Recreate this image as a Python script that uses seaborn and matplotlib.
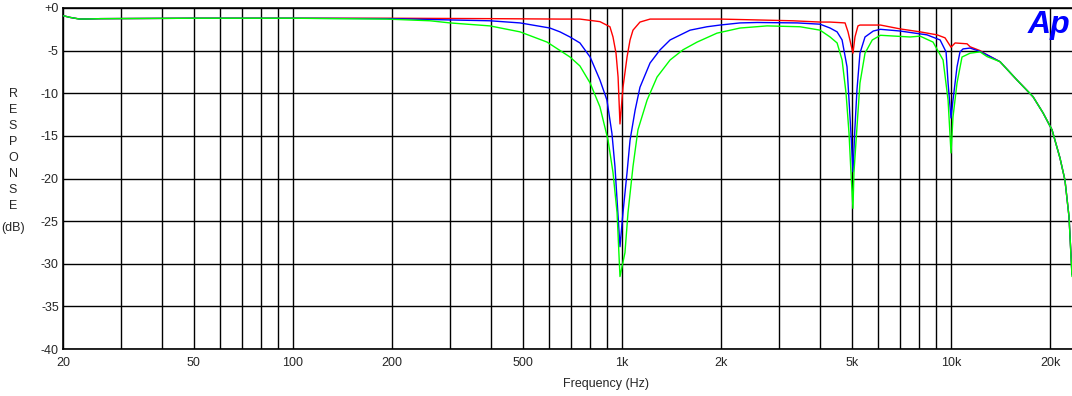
import numpy as np
import pandas as pd
import matplotlib
matplotlib.use("Agg")
import matplotlib.pyplot as plt
import seaborn as sns
from matplotlib.ticker import FixedLocator, NullFormatter

# response curves (Hz, dB)
red_freq = [20, 21, 22.5, 26, 50, 100, 200, 400, 650, 745, 857, 919, 939, 959, 973, 986,
            1007, 1036, 1058, 1080, 1134, 1217, 1400, 1986, 2574, 3310, 4000, 4290, 4764,
            4864, 5035, 5106, 5214, 5288, 6104, 7000, 8054, 9072, 9590, 10000, 10290,
            11190, 11430, 12256, 12870, 14094, 15870, 17750, 19040, 20280, 21440, 22200,
            22840, 23320]
red_db = [-0.9, -1.1, -1.3, -1.25, -1.2, -1.2, -1.2, -1.25, -1.3, -1.3, -1.6, -2.2, -3.4,
          -5.3, -8.1, -13.6, -9.3, -5.75, -3.75, -2.6, -1.65, -1.3, -1.3, -1.3, -1.4, -1.5,
          -1.65, -1.65, -1.75, -2.8, -5.3, -3.4, -2.1, -2.0, -2.0, -2.45, -2.8, -3.15, -3.5,
          -4.6, -4.1, -4.2, -4.55, -5.0, -5.5, -6.3, -8.45, -10.4, -12.3, -14.3, -17.6,
          -20.2, -24.5, -31.2]

blue_freq = [20, 21, 22.5, 26, 50, 100, 200, 300, 397, 490, 604, 648, 695, 745, 800, 857,
             900, 932, 952, 966, 986, 1007, 1036, 1058, 1096, 1134, 1217, 1306, 1400, 1610,
             1813, 1986, 2284, 2574, 3410, 4000, 4290, 4506, 4666, 4830, 4898, 4965, 5035,
             5106, 5178, 5288, 5478, 5806, 6104, 7000, 8454, 9266, 9660, 9796, 10000, 10140,
             10430, 10650, 10880, 11430, 12256, 12870, 14094, 15870, 17750, 19040, 20280,
             21440, 22200, 22840, 23320]
blue_db = [-0.9, -1.1, -1.3, -1.25, -1.2, -1.2, -1.25, -1.4, -1.5, -1.75, -2.35, -2.8, -3.4,
           -4.1, -5.75, -8.45, -10.8, -14.7, -18.6, -22.5, -28.0, -24.0, -19.3, -15.5, -12.0,
           -9.3, -6.45, -4.9, -3.75, -2.6, -2.2, -2.0, -1.75, -1.7, -1.75, -1.9, -2.35, -2.8,
           -3.75, -6.9, -10.8, -14.7, -19.2, -14.0, -9.6, -5.3, -3.4, -2.7, -2.5, -2.7, -3.15,
           -3.75, -5.15, -8.8, -12.9, -10.8, -6.9, -5.15, -4.8, -4.7, -5.1, -5.5, -6.3, -8.45,
           -10.4, -12.3, -14.3, -17.6, -20.2, -24.5, -31.3]

green_freq = [20, 21, 22.5, 26, 50, 100, 193, 261, 300, 397, 490, 592, 695, 745, 800, 857,
              907, 939, 966, 986, 1021, 1043, 1080, 1118, 1192, 1278, 1400, 1533, 1691, 1944,
              2284, 2760, 3478, 4000, 4290, 4506, 4666, 4797, 4898, 4965, 5035, 5070, 5178,
              5288, 5478, 5764, 6104, 7508, 8054, 8818, 9460, 9796, 10000, 10140, 10430,
              10800, 11430, 12256, 12870, 14094, 15870, 17750, 19040, 20280, 21440, 22200,
              22840, 23320]
green_db = [-0.9, -1.1, -1.3, -1.25, -1.2, -1.2, -1.3, -1.5, -1.75, -2.1, -2.8, -4.0, -5.75,
            -6.8, -8.8, -11.6, -15.5, -19.3, -24.0, -31.5, -28.7, -24.0, -18.6, -14.3, -10.8,
            -8.1, -6.1, -4.9, -4.0, -2.95, -2.35, -2.1, -2.2, -2.6, -3.4, -4.1, -6.1, -10.0,
            -14.7, -19.3, -23.5, -19.3, -14.0, -8.8, -5.3, -3.75, -3.2, -3.4, -3.3, -4.0,
            -6.1, -10.8, -17.0, -12.8, -8.8, -5.75, -5.3, -5.15, -5.7, -6.3, -8.45, -10.4,
            -12.3, -14.3, -17.6, -20.2, -24.5, -31.5]

x_major = [20, 50, 100, 200, 500, 1000, 2000, 5000, 10000, 20000]
x_major_labels = ["20", "50", "100", "200", "500", "1k", "2k", "5k", "10k", "20k"]
x_grid = [30, 40, 60, 70, 80, 90, 300, 400, 600, 700, 800, 900,
          3000, 4000, 6000, 7000, 8000, 9000]
y_major = [0, -5, -10, -15, -20, -25, -30, -35, -40]
y_major_labels = ["+0", "-5", "-10", "-15", "-20", "-25", "-30", "-35", "-40"]

df = pd.concat([
    pd.DataFrame({"freq": red_freq, "db": red_db, "trace": "red"}),
    pd.DataFrame({"freq": blue_freq, "db": blue_db, "trace": "blue"}),
    pd.DataFrame({"freq": green_freq, "db": green_db, "trace": "green"}),
])

sns.set_style("white")
plt.rcParams["font.family"] = ["Liberation Sans", "DejaVu Sans"]

fig = plt.figure(figsize=(10.72, 3.96), dpi=100)
ax = fig.add_axes([63 / 1072, 1 - 349 / 396, 1 - 63 / 1072, 341 / 396])

ax.set_xscale("log")
sns.lineplot(data=df, x="freq", y="db", hue="trace", estimator=None, sort=False,
             palette={"red": "#ff0000", "blue": "#0000ff", "green": "#00ff00"},
             linewidth=1.0, legend=False, ax=ax, zorder=3)

ax.set_xlim(20, 23320)
ax.set_ylim(-40, 0)

ax.xaxis.set_major_locator(FixedLocator(x_major))
ax.set_xticklabels(x_major_labels)
ax.xaxis.set_minor_locator(FixedLocator(x_grid))
ax.xaxis.set_minor_formatter(NullFormatter())
ax.yaxis.set_major_locator(FixedLocator(y_major))
ax.set_yticklabels(y_major_labels)
ax.yaxis.set_minor_locator(FixedLocator(list(range(-39, 0))))

ax.grid(True, which="major", color="black", linewidth=1.0)
ax.grid(True, which="minor", axis="x", color="black", linewidth=1.0)
ax.tick_params(axis="x", which="both", length=0, pad=6, labelsize=9)
ax.tick_params(axis="y", which="major", length=0, pad=3, labelsize=9)
ax.tick_params(axis="y", which="minor", direction="in", length=6, width=1, color="black")

for side in ["left", "bottom", "top"]:
    ax.spines[side].set_color("black")
    ax.spines[side].set_linewidth(1.2)
ax.spines["right"].set_visible(False)

ax.set_xlabel("")
ax.set_ylabel("")
fig.text(606 / 1072, 1 - 384 / 396, "Frequency (Hz)", ha="center", va="center", fontsize=9)
fig.text(13 / 1072, 1 - 88 / 396, "\n".join("RESPONSE"), ha="center", va="top",
         fontsize=9, linespacing=1.45)
fig.text(13 / 1072, 1 - 228 / 396, "(dB)", ha="center", va="center", fontsize=9)
fig.text(1070 / 1072, 1 - 25 / 396, "Ap", ha="right", va="center", color="#0000ff",
         fontsize=23, fontweight="bold", fontstyle="italic")

fig.savefig("out.png", dpi=100)
